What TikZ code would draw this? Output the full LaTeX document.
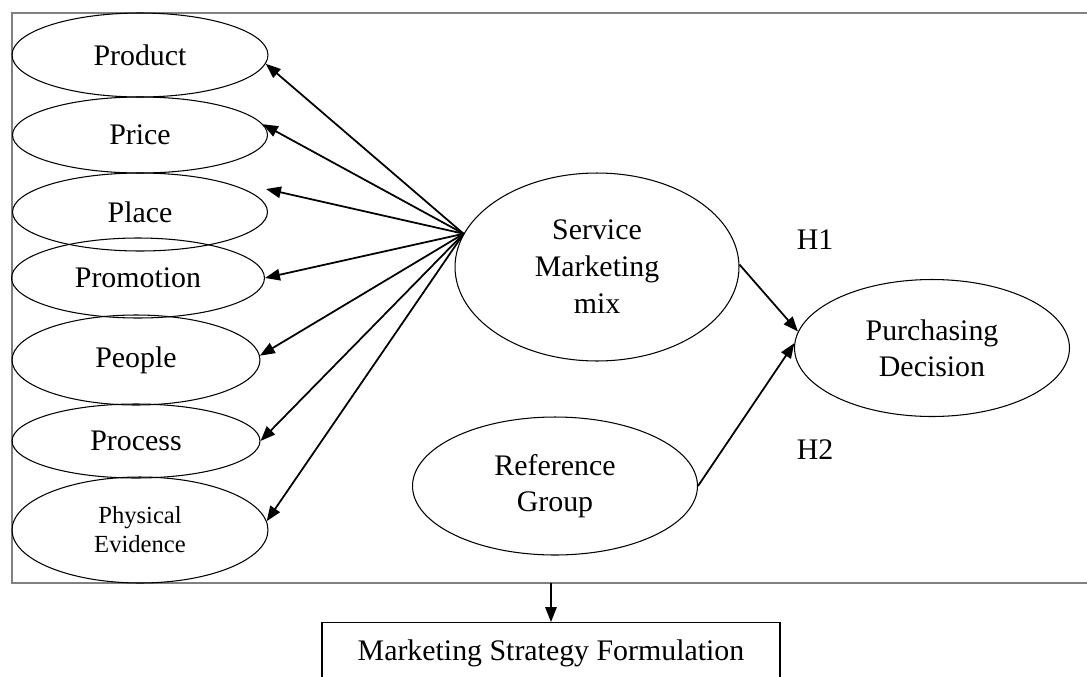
\documentclass[tikz,border=0pt]{standalone}
\usepackage{fontspec}
\setmainfont{Liberation Serif}
\usetikzlibrary{shapes.geometric,arrows.meta}
\begin{document}
\begin{tikzpicture}[x=0.02cm,y=-0.02cm,>={Triangle[length=8.5pt,width=6.5pt]},
  oval/.style={draw,ellipse,inner sep=0pt,line width=.6pt,align=center,font=\fontsize{17}{20.5}\selectfont},
  link/.style={->,line width=1pt}]
\useasboundingbox (0,0) rectangle (1087,676);
\draw [gray,line width=1.2pt](1090,13)-|(12,583)--(1090,583);
\node[oval,minimum width=5.12cm,minimum height=1.68cm] (prod) at (140,55) {Product};
\node[oval,minimum width=5.1cm,minimum height=1.52cm] (price) at (140,135) {Price};
\node[oval,minimum width=5.1cm,minimum height=1.56cm] (place) at (140,212) {Place};
\node[oval,minimum width=5.06cm,minimum height=1.6cm] (promo) at (138,278) {Promotion};
\node[oval,minimum width=4.96cm,minimum height=1.8cm] (people) at (136,360) {People};
\node[oval,minimum width=4.96cm,minimum height=1.48cm] (proc) at (136,441) {Process};
\node[oval,minimum width=5.12cm,minimum height=2.12cm,font=\fontsize{14}{16.5}\selectfont] (phys) at (140,530) {Physical\\Evidence};
\node[oval,minimum width=5.68cm,minimum height=3.76cm,font=\fontsize{17}{21}\selectfont] (smm) at (597,267) {Service\\Marketing\\mix};
\node[oval,minimum width=5.5cm,minimum height=2.74cm] (pd) at (932,348) {Purchasing\\Decision};
\node[oval,minimum width=5.7cm,minimum height=2.76cm] (rg) at (555,486) {Reference\\Group};
\node[font=\fontsize{17}{20}\selectfont] (h1) at (815,240) {H1};
\node[font=\fontsize{17}{20}\selectfont] (h2) at (815,450) {H2};
% the seven P's
\coordinate (hub) at (smm.166);
\coordinate (placetip) at (266,189);
\draw [link](hub)--(prod.-4);
\draw [link](hub)--(price.5);
\draw [link](hub)--(placetip);
\draw [link](hub)--(promo.east);
\draw [link](hub)--(people.2);
\draw [link](hub)--(proc.east);
\draw [link](hub)--(phys.4);
\draw [link](smm.1)--(pd.173);
\draw [link](rg.east)--(pd.178);
\node[draw,line width=.8pt,anchor=north,minimum width=9.16cm,text height=12pt,text depth=20pt,inner ysep=9.5pt,font=\fontsize{17}{20}\selectfont] (msf) at (551,622) {Marketing Strategy Formulation};
\coordinate (framebot) at (551,583);
\draw [link](framebot)--(msf.north);
\end{tikzpicture}
\end{document}
